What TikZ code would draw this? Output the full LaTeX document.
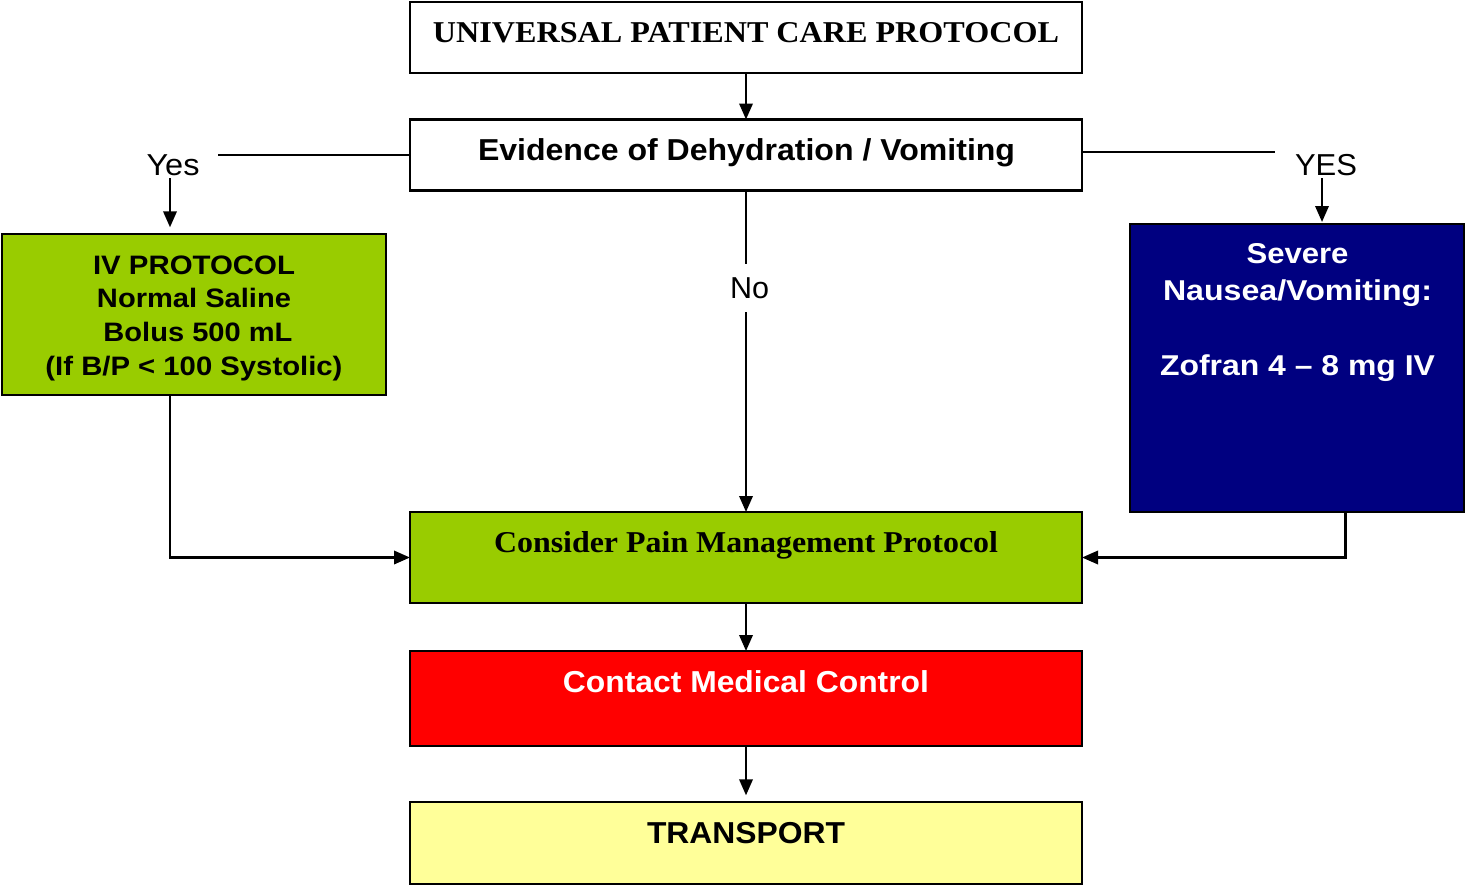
\documentclass[tikz,border=0pt]{standalone}
\usepackage{fontspec}
\usepackage{graphicx}
\setmainfont{Liberation Serif}
\newfontfamily\arialfont{Liberation Sans}
\usetikzlibrary{arrows.meta,calc}
% one unit of the drawing grid
\newlength\pxu
\setlength\pxu{0.75pt}
% set a line of text to a given width, keeping its height
\newcommand\fw[2]{\resizebox{#1\pxu}{\height}{#2}}
\definecolor{leaf}{HTML}{99CC00}
\definecolor{navy}{HTML}{000080}
\definecolor{alarm}{HTML}{FF0000}
\definecolor{cream}{HTML}{FFFF99}
\begin{document}
\begin{tikzpicture}[x=0.75pt,y=-0.75pt,
  box/.style 2 args={draw, line width=1.9pt, inner sep=0pt, outer sep=0pt,
    minimum width=#1*0.75pt, minimum height=#2*0.75pt},
  txt/.style={inner sep=0pt, anchor=base, align=center},
  sans/.style={font=\arialfont\bfseries\fontsize{22.7}{27}\selectfont},
  serif/.style={font=\bfseries\fontsize{22.7}{27}\selectfont},
  ln/.style={line width=1.8pt},
  arr/.style={line width=1.8pt, -{Triangle[length=12pt,width=10pt]}}]
\useasboundingbox (0,0) rectangle (1466,886);

% boxes
\node[box={672}{71}] (top) at (746,37.5) {};
\node[box={672}{71}] (ev) at (746,155) {};
\node[box={384}{161}, fill=leaf] (iv) at (194,314.5) {};
\node[box={334}{288}, fill=navy] (blue) at (1297,368) {};
\node[box={672}{91}, fill=leaf] (cons) at (746,557.5) {};
\node[box={672}{95}, fill=alarm] (contact) at (746,698.5) {};
\node[box={672}{82}, fill=cream] (trans) at (746,843) {};

% box texts (multi-line texts sit on the baseline of their last line)
\node[txt, serif] (topT) at (746,42) {\fw{626}{UNIVERSAL PATIENT CARE PROTOCOL}};
\node[txt, sans] (evT) at (746.5,160) {\fw{537}{Evidence of Dehydration / Vomiting}};
\node[txt, font=\arialfont\bfseries\fontsize{20}{25.2}\selectfont] (ivT) at (194,375)
  {\fw{202}{IV PROTOCOL}\\\fw{194}{Normal Saline}\\\hspace*{8\pxu}\fw{189}{Bolus 500 mL}\\\fw{297}{(If B/P < 100 Systolic)}};
\node[txt, text=white, font=\arialfont\bfseries\fontsize{21.5}{27.9}\selectfont] (blueT) at (1297.5,375)
  {\fw{102}{Severe}\\\fw{269}{Nausea/Vomiting:}\\[27.9pt]\fw{275}{Zofran 4 \textendash{} 8 mg IV}};
\node[txt, serif] (consT) at (746,552) {\fw{504}{Consider Pain Management Protocol}};
\node[txt, sans, text=white] (contactT) at (746,692) {\fw{366}{Contact Medical Control}};
\node[txt, sans] (transT) at (746,843) {\fw{198}{TRANSPORT}};

% branch labels
\node[txt, font=\arialfont\fontsize{22.7}{27}\selectfont] (yesL) at (173,175) {\fw{53}{Yes}};
\node[txt, font=\arialfont\fontsize{22.7}{27}\selectfont] (yesR) at (1326,175) {\fw{62}{YES}};
\node[inner sep=10pt, font=\arialfont\fontsize{22.7}{27}\selectfont] (no) at (749.5,288) {\fw{39}{No}};

% connector ends
\coordinate (yl) at (218,155);
\coordinate (ya) at (170,178);
\coordinate (yr) at (1275,152);
\coordinate (yb) at (1322,178);

% connectors
\draw[arr] (top) -- (ev);
\draw[ln] (ev.west) -- (yl |- ev.west);
\draw[arr, shorten >=5pt] (ya) -- (ya |- iv.north);
\draw[ln] (ev.east |- yr) -- (yr);
\draw[arr, shorten >=1.5pt] (yb) -- (yb |- blue.north);
\draw[ln] (ev.south) -- (ev.south |- no.north);
\draw[arr] (ev.south |- no.south) -- (cons.north);
\draw[arr] (ya |- iv.south) |- (cons.west);
\draw[arr] ($(blue.south)+(48.5,0)$) |- (cons.east);
\draw[arr] (cons) -- (contact);
\draw[arr, shorten >=5pt] (contact) -- (trans);
\end{tikzpicture}
\end{document}
